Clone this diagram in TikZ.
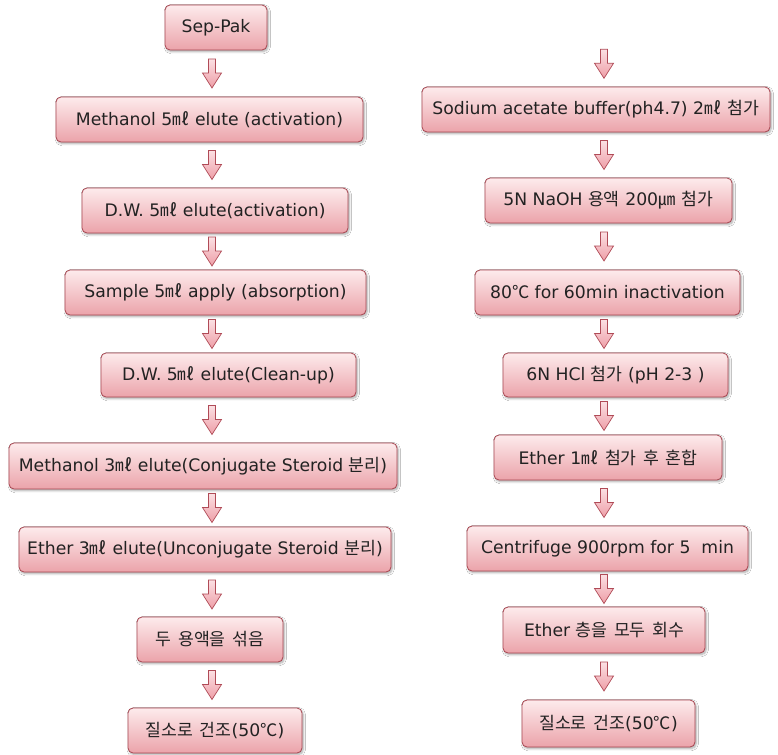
\documentclass[tikz,border=0pt]{standalone}
\usepackage{fontspec}
\setmainfont{DejaVu Sans}
\newfontfamily\krfont{Noto Sans CJK KR}[Scale=1.0,WordSpace=1.7]
\newcommand\K[1]{{\krfont #1}}
\usetikzlibrary{calc,shadows.blur}
\definecolor{boxborder}{HTML}{A84651}
\definecolor{boxtop}{HTML}{FDEBEC}
\definecolor{boxbot}{HTML}{EBA3AA}
\definecolor{textc}{HTML}{222222}
\definecolor{arrborder}{HTML}{B04B57}
\definecolor{arrtop}{HTML}{FBE0E3}
\definecolor{arrbot}{HTML}{EE9EA7}
\tikzset{
  box/.style={draw=boxborder, line width=0.8pt, rounded corners=5bp,
    top color=boxtop, bottom color=boxbot, text=textc,
    font=\fontsize{17.3}{20}\selectfont, inner sep=0pt, minimum height=45bp,
    blur shadow={shadow xshift=1.2pt, shadow yshift=-1.6pt, shadow blur steps=6, shadow opacity=35}},
  arr/.style={draw=arrborder, line width=0.7pt, top color=arrtop, bottom color=arrbot, line join=miter}
}
\newcommand\flowarrow[3]{%
  \coordinate (m) at ($(#1.south)!0.5!(#2.north)$);
  \path[arr] ($(m -| #3)+(-3.5,-14.5)$) -- ++(7,0) -- ++(0,14) -- ++(6,0)
     -- ++(-9.5,15) -- ++(-9.5,-15) -- ++(6,0) -- cycle;
}
\begin{document}
\begin{tikzpicture}[x=1bp,y=-1bp]
\useasboundingbox (0,0) rectangle (778,755);
\fill[white] (0,0) rectangle (778,755);
\coordinate (colL) at (212,0);
\coordinate (colR) at (604,0);
\coordinate (Rtop) at (604,41);
% left column
\node[box, minimum width=102bp] (L1) at (216,27.5) {Sep-Pak};
\node[box, minimum width=307bp] (L2) at (209.5,119.5) {Methanol 5\K{㎖} elute (activation)};
\node[box, minimum width=266bp] (L3) at (215,210.5) {D.W. 5\K{㎖} elute(activation)};
\node[box, minimum width=301bp] (L4) at (215.5,292.5) {Sample 5\K{㎖} apply (absorption)};
\node[box, minimum width=255bp, minimum height=44bp] (L5) at (228.5,375) {D.W. 5\K{㎖} elute(Clean-up)};
\node[box, minimum width=388bp, minimum height=46bp] (L6) at (203,466) {Methanol 3\K{㎖} elute(Conjugate Steroid \K{분리})};
\node[box, minimum width=372bp] (L7) at (205,549.5) {Ether 3\K{㎖} elute(Unconjugate Steroid \K{분리})};
\node[box, minimum width=146bp] (L8) at (210,639.5) {\K{두 용액을 섞음}};
\node[box, minimum width=174bp] (L9) at (215,730.5) {\K{질소로 건조}(50\K{℃})};
% right column
\node[box, minimum width=348bp] (R1) at (596,109.5) {Sodium acetate buffer(ph4.7) 2\K{㎖ 첨가}};
\node[box, minimum width=247bp] (R2) at (608.5,200.5) {5N NaOH \K{용액} 200\K{㎛ 첨가}};
\node[box, minimum width=265bp] (R3) at (607.5,292.5) {80\K{℃} for 60min inactivation};
\node[box, minimum width=225bp, minimum height=44bp] (R4) at (615.5,375) {6N HCl \K{첨가} (pH 2-3 )};
\node[box, minimum width=228bp] (R5) at (608,457.5) {Ether 1\K{㎖ 첨가 후 혼합}};
\node[box, minimum width=281bp] (R6) at (607.5,548.5) {Centrifuge 900rpm for 5\ \ min};
\node[box, minimum width=202bp, minimum height=46bp] (R7) at (604,630) {Ether \K{층을 모두 회수}};
\node[box, minimum width=173bp, minimum height=47bp] (R8) at (608.5,723.5) {\K{질소로 건조}(50\K{℃})};
% arrows
\flowarrow{L1}{L2}{colL}
\flowarrow{L2}{L3}{colL}
\flowarrow{L3}{L4}{colL}
\flowarrow{L4}{L5}{colL}
\flowarrow{L5}{L6}{colL}
\flowarrow{L6}{L7}{colL}
\flowarrow{L7}{L8}{colL}
\flowarrow{L8}{L9}{colL}
\flowarrow{Rtop}{R1}{colR}
\flowarrow{R1}{R2}{colR}
\flowarrow{R2}{R3}{colR}
\flowarrow{R3}{R4}{colR}
\flowarrow{R4}{R5}{colR}
\flowarrow{R5}{R6}{colR}
\flowarrow{R6}{R7}{colR}
\flowarrow{R7}{R8}{colR}
\end{tikzpicture}
\end{document}
